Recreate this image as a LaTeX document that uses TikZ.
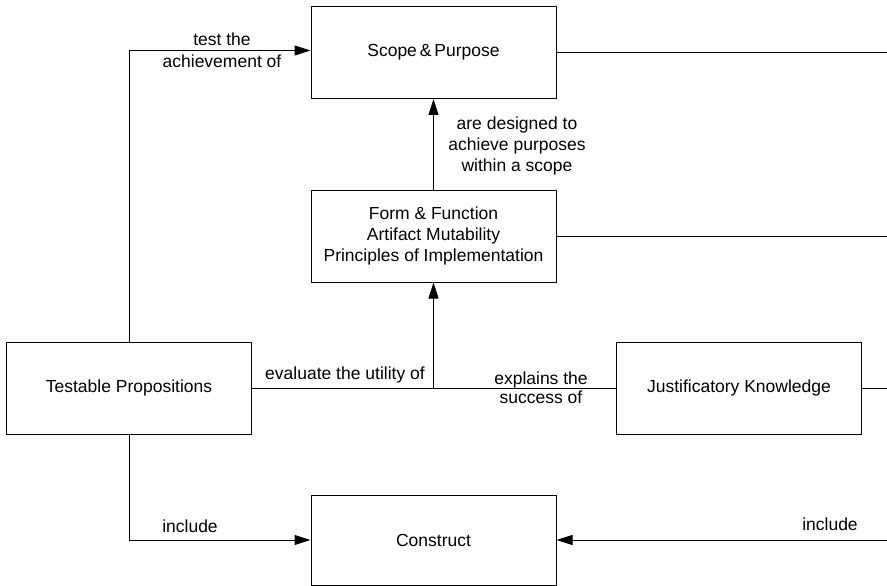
\documentclass[tikz,border=0pt]{standalone}
\usepackage{fontspec}
\setmainfont{Liberation Sans}
\usetikzlibrary{arrows.meta,calc}
\begin{document}
\begin{tikzpicture}[x=1pt,y=-1pt,
  box/.style={draw, line width=1pt, minimum width=245pt, minimum height=92pt, inner sep=0pt, align=center, font=\fontsize{17.5}{21}\selectfont},
  lbl/.style={align=center, inner sep=0pt, font=\fontsize{17.5}{21}\selectfont},
  conn/.style={line width=1pt},
  arr/.style={conn, -{Triangle[length=16pt,width=10pt]}}]
\useasboundingbox (0,0) rectangle (887,586);
% boxes
\node[box] (scope) at (433.5,52.5) {Scope\,\&\,Purpose};
\node[box] (form) at (433.5,236) {Form \& Function\\Artifact Mutability\\Principles of Implementation};
\node[box] (tp) at (129,388) {Testable Propositions};
\node[box] (jk) at (739,388) {Justificatory Knowledge};
\node[box, minimum height=90pt] (cons) at (433.5,540) {Construct};
% free ends at the right edge
\coordinate (r1) at (887,52.5);
\coordinate (r2) at (887,236);
\coordinate (r3) at (887,388);
\coordinate (r4) at (887,540);
% connectors
\draw[arr] (form.north) -- (scope.south);
\draw[arr] (tp.north) |- ([yshift=2pt]scope.west);
\draw[conn] (tp.east) -- (jk.west);
\draw[arr] (form.south |- tp.east) -- (form.south);
\draw[arr] (tp.south) |- (cons.west);
\draw[arr] (r4) -- (cons.east);
\draw[conn] (scope.east) -- (r1);
\draw[conn] (form.east) -- (r2);
\draw[conn] (jk.east) -- (r3);
% labels
\node[lbl] (l1) at (222,50) {test the\\[1pt]achievement of};
\node[lbl] (l2) at (517,146) {are designed to\\achieve purposes\\within a scope};
\node[lbl] (l3) at (345,375) {evaluate the utility of};
\node[lbl] (l4) at (541,388) {explains the\\[-2pt]success of};
\node[lbl] (l5) at (190,526) {include};
\node[lbl] (l6) at (830,524) {include};
\end{tikzpicture}
\end{document}
